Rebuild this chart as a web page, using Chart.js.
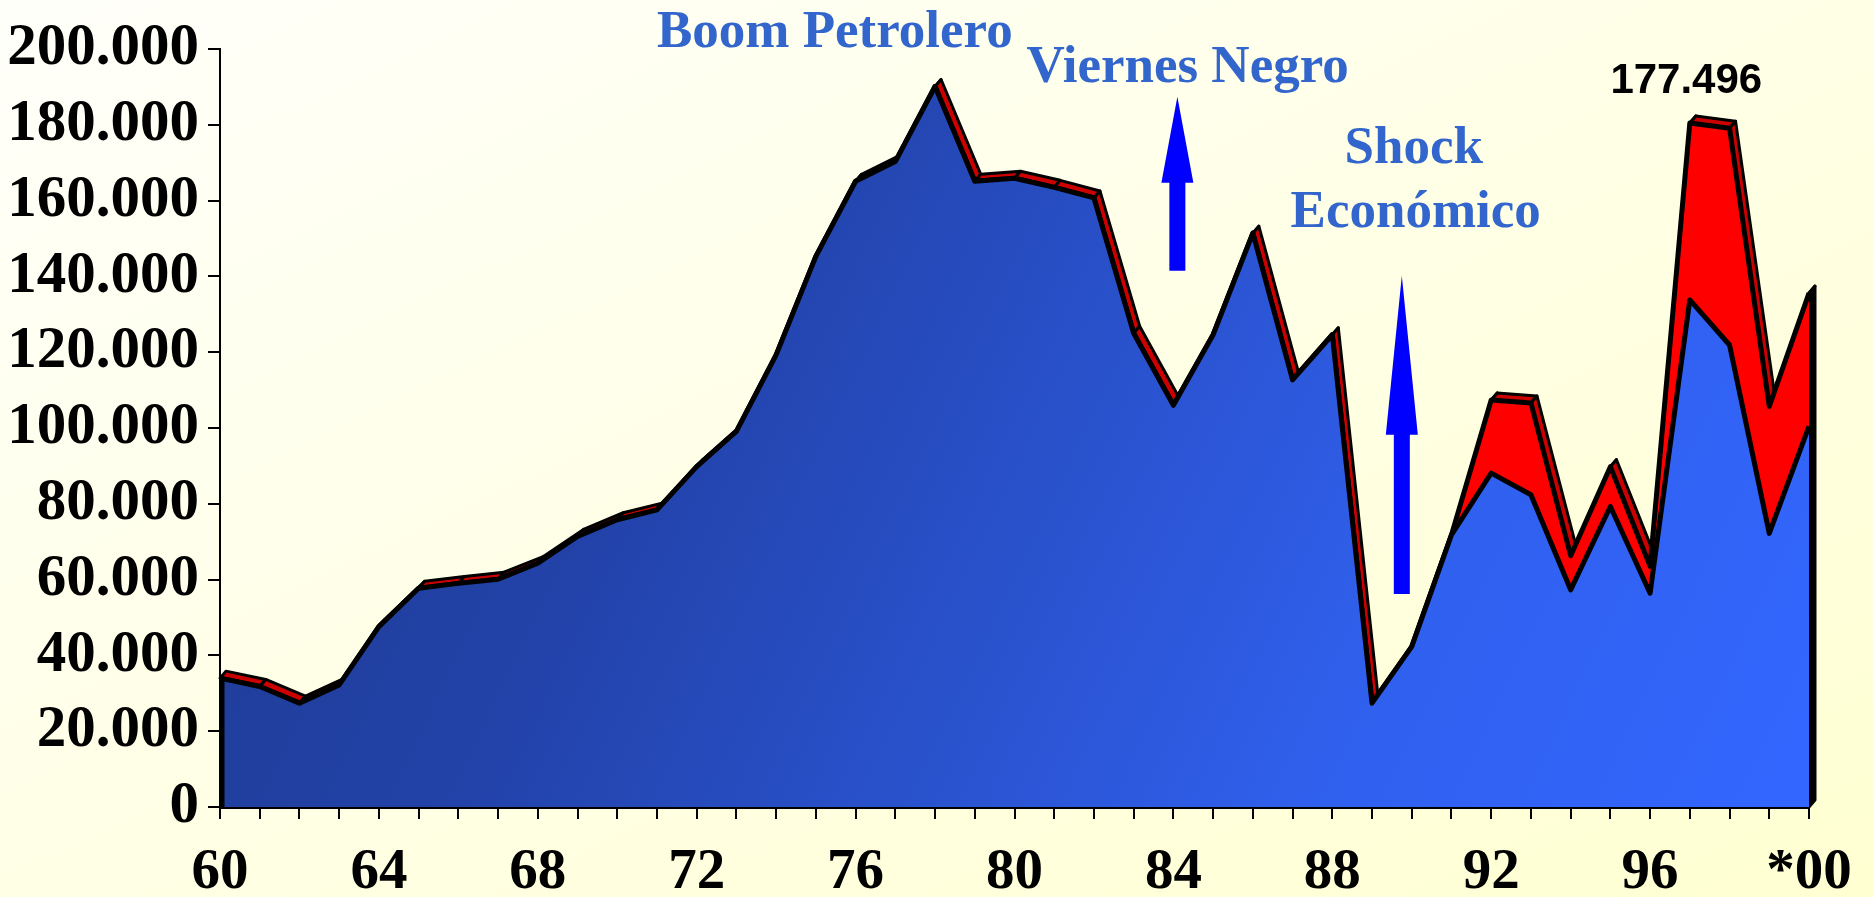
<!DOCTYPE html>
<html>
<head>
<meta charset="utf-8">
<script src="https://cdn.jsdelivr.net/npm/chart.js@4.4.1/dist/chart.umd.min.js"></script>
<style>
  html, body { margin: 0; padding: 0; }
  body {
    width: 1873px; height: 897px; overflow: hidden;
    background: linear-gradient(to bottom right, #fffffa, #ffffd2);
  }
</style>
</head>
<body>
<canvas id="chart" width="1873" height="897"></canvas>
<script>
// years on the x axis (one tick per year, label every 4th)
const years = ['60','61','62','63','64','65','66','67','68','69',
               '70','71','72','73','74','75','76','77','78','79',
               '80','81','82','83','84','85','86','87','88','89',
               '90','91','92','93','94','95','96','97','98','99','*00'];

// lower (blue) series
const baseValues = [34000, 31800, 27400, 32200, 47600, 57700, 59000, 60100, 64300, 71400,
                    75800, 78400, 89800, 99100, 119300, 145300, 165100, 170300, 190100, 165100,
                    165900, 163500, 160700, 125000, 106000, 124600, 151400, 112700, 124600, 27400,
                    42300, 71800, 88100, 82400, 57300, 79300, 56400, 133800, 121900, 72200, 100400];

// upper (red) series, stacked on the blue one
const extraValues = [0, 0, 0, 0, 0, 0, 0, 0, 0, 0,
                     0, 0, 0, 0, 0, 0, 0, 0, 0, 0,
                     0, 0, 0, 0, 0, 0, 0, 0, 0, 0,
                     0, 0, 19300, 24200, 9000, 10500, 7100, 46700, 57200, 33500, 35200];

const yMax = 200000;
const yStep = 20000;

// notes: x as year index, y as value
const notes = [
  { text: 'Boom Petrolero', x: 11.0, y: 200600, align: 'left', kind: 'title' },
  { text: 'Viernes Negro', x: 20.3, y: 191400, align: 'left', kind: 'title' },
  { text: 'Shock', x: 30.05, y: 170000, align: 'center', kind: 'title' },
  { text: 'Económico', x: 30.1, y: 153100, align: 'center', kind: 'title' },
  { text: '177.496', x: 35.0, y: 188500, align: 'left', kind: 'value' }
];
const arrows = [
  { x: 24.1, tip: 187400, head: 164700, tail: 141500 },
  { x: 29.75, tip: 140200, head: 98200, tail: 56200 }
];

const depth = { x: 6, y: -7 };

function fmt(v) {
  if (v === 0) return '0';
  return (v / 1000).toFixed(0) + '.000';
}

// 3D top face of the stacked area + dark side at the right end
const depthPlugin = {
  id: 'depth',
  beforeDatasetsDraw(chart) {
    const pts = chart.getDatasetMeta(1).data;
    const c = chart.ctx;
    const base = chart.scales.y.getPixelForValue(0);
    c.save();
    c.lineJoin = 'round';
    c.lineWidth = 3;
    c.strokeStyle = '#000';
    for (let i = 0; i < pts.length - 1; i++) {
      const a = pts[i], b = pts[i + 1];
      c.beginPath();
      c.moveTo(a.x, a.y);
      c.lineTo(b.x, b.y);
      c.lineTo(b.x + depth.x, b.y + depth.y);
      c.lineTo(a.x + depth.x, a.y + depth.y);
      c.closePath();
      c.fillStyle = '#CC0000';
      c.fill();
      c.stroke();
    }
    const last = pts[pts.length - 1];
    c.beginPath();
    c.moveTo(last.x, last.y);
    c.lineTo(last.x + depth.x, last.y + depth.y);
    c.lineTo(last.x + depth.x, base + depth.y);
    c.lineTo(last.x, base);
    c.closePath();
    c.fillStyle = '#000';
    c.fill();
    c.stroke();
    c.restore();
  },
  afterDatasetsDraw(chart) {
    const first = chart.getDatasetMeta(1).data[0];
    const c = chart.ctx;
    const base = chart.scales.y.getPixelForValue(0);
    c.save();
    c.strokeStyle = '#000';
    c.lineWidth = 5;
    c.beginPath();
    c.moveTo(first.x + 2, first.y);
    c.lineTo(first.x + 2, base);
    c.stroke();
    c.restore();
  }
};

const notesPlugin = {
  id: 'notes',
  afterDraw(chart) {
    const c = chart.ctx;
    const xs = chart.scales.x, ys = chart.scales.y;
    c.save();
    arrows.forEach(a => {
      const x = xs.getPixelForValue(a.x);
      const tip = ys.getPixelForValue(a.tip);
      const head = ys.getPixelForValue(a.head);
      const tail = ys.getPixelForValue(a.tail);
      c.fillStyle = '#0000FF';
      c.beginPath();
      c.moveTo(x, tip);
      c.lineTo(x + 16, head);
      c.lineTo(x + 8, head);
      c.lineTo(x + 8, tail);
      c.lineTo(x - 8, tail);
      c.lineTo(x - 8, head);
      c.lineTo(x - 16, head);
      c.closePath();
      c.fill();
    });
    c.textBaseline = 'alphabetic';
    notes.forEach(n => {
      if (n.kind === 'title') {
        c.font = 'bold 53px "Liberation Serif", "Times New Roman", serif';
        c.fillStyle = '#3366CC';
      } else {
        c.font = 'bold 42px "Liberation Sans", Arial, sans-serif';
        c.fillStyle = '#000';
      }
      c.textAlign = n.align;
      c.fillText(n.text, xs.getPixelForValue(n.x), ys.getPixelForValue(n.y));
    });
    c.restore();
  }
};

function blueFill(ctx) {
  const chart = ctx.chart;
  const a = chart.chartArea;
  if (!a) return '#2447b0';
  const g = chart.ctx.createLinearGradient(a.left, a.top, a.right, a.bottom);
  g.addColorStop(0, '#1f3a90');
  g.addColorStop(0.3, '#2242a8');
  g.addColorStop(0.75, '#3060ee');
  g.addColorStop(1, '#3366ff');
  return g;
}

new Chart(document.getElementById('chart'), {
  type: 'line',
  data: {
    labels: years,
    datasets: [
      {
        data: baseValues,
        fill: 'origin',
        backgroundColor: blueFill,
        borderColor: '#000',
        borderWidth: 5,
        pointRadius: 0,
        tension: 0,
        borderJoinStyle: 'round'
      },
      {
        data: extraValues,
        fill: '-1',
        backgroundColor: '#FF0000',
        borderColor: '#000',
        borderWidth: 5,
        pointRadius: 0,
        tension: 0,
        borderJoinStyle: 'round'
      }
    ]
  },
  options: {
    responsive: false,
    animation: false,
    devicePixelRatio: 1,
    layout: { padding: { top: 49, right: 64, left: 0, bottom: 0 } },
    plugins: { legend: { display: false }, tooltip: { enabled: false } },
    scales: {
      x: {
        offset: false,
        afterFit: s => { s.height = 90; },
        grid: { display: true, drawOnChartArea: false, drawTicks: true, tickLength: 12, color: '#000', lineWidth: 2 },
        border: { display: true, color: '#000', width: 3 },
        ticks: {
          autoSkip: false,
          maxRotation: 0,
          padding: 20,
          color: '#000',
          font: { family: '"Liberation Serif", "Times New Roman", serif', weight: 'bold', size: 57 },
          callback: (v, i) => (i % 4 === 0 ? years[i] : '')
        }
      },
      y: {
        stacked: true,
        min: 0,
        max: yMax,
        afterFit: s => { s.width = 220; },
        grid: { display: true, drawOnChartArea: false, drawTicks: true, tickLength: 12, color: '#000', lineWidth: 2 },
        border: { display: true, color: '#000', width: 2 },
        ticks: {
          stepSize: yStep,
          padding: 9,
          color: '#000',
          font: { family: '"Liberation Serif", "Times New Roman", serif', weight: 'bold', size: 59 },
          callback: v => fmt(v)
        }
      }
    }
  },
  plugins: [depthPlugin, notesPlugin]
});
</script>
</body>
</html>
